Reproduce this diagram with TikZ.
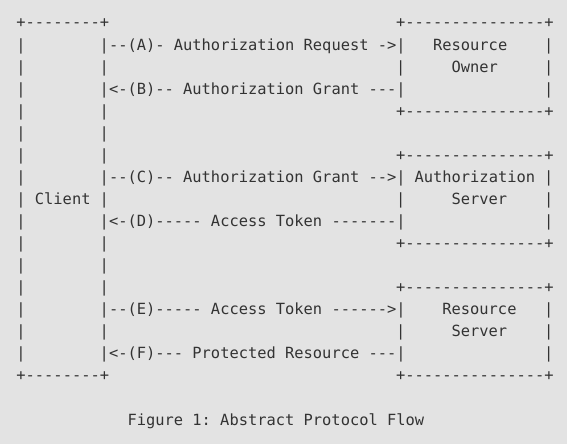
\documentclass[tikz,border=0pt]{standalone}
\usepackage{fontspec}
\setmonofont{DejaVu Sans Mono}
\definecolor{paper}{HTML}{E3E3E3}
\definecolor{ink}{HTML}{333333}

\begin{document}
\begin{tikzpicture}[x=9.26pt,y=-22.06pt,
  ascii/.style={anchor=base west,inner sep=0pt,outer sep=0pt,text=ink,
    font=\ttfamily\fontsize{15.4}{18}\selectfont\frenchspacing}]
  % one unit = one character cell of the figure
  \fill[paper] (-1.771,-1.269) rectangle (59.46,18.858);

  % client
  \node[ascii] (cltop) at (0,0) {+--------+};
  \foreach \r in {1,...,15}
    \node[ascii] (clleft\r) at (0,\r) {|};
  \foreach \r in {2,4,5,6,8,10,11,12,14}
    \node[ascii] (clright\r) at (9,\r) {|};
  \node[ascii] (client) at (2,8) {Client};
  \node[ascii] (clbot) at (0,16) {+--------+};

  % servers
  \foreach \t/\srv in {0/owner,6/authz,12/rsrv} {
    \node[ascii] (\srv-top) at (41,\t) {+---------------+};
    \node[ascii] (\srv-left) at (41,\t+2) {|};
    \foreach \r in {1,2,3}
      \node[ascii] (\srv-right\r) at (57,\t+\r) {|};
    \node[ascii] (\srv-bot) at (41,\t+4) {+---------------+};
  }
  \node[ascii] (owner1) at (45,1) {Resource};
  \node[ascii] (owner2) at (47,2) {Owner};
  \node[ascii] (authz1) at (43,7) {Authorization};
  \node[ascii] (authz2) at (47,8) {Server};
  \node[ascii] (rsrv1) at (46,13) {Resource};
  \node[ascii] (rsrv2) at (47,14) {Server};

  % flows
  \node[ascii] (flowA) at (9,1) {|--(A)- Authorization Request ->|};
  \node[ascii] (flowB) at (9,3) {|<-(B)-- Authorization Grant ---|};
  \node[ascii] (flowC) at (9,7) {|--(C)-- Authorization Grant -->|};
  \node[ascii] (flowD) at (9,9) {|<-(D)----- Access Token -------|};
  \node[ascii] (flowE) at (9,13) {|--(E)----- Access Token ------>|};
  \node[ascii] (flowF) at (9,15) {|<-(F)--- Protected Resource ---|};

  \node[ascii] (caption) at (12,18) {Figure 1: Abstract Protocol Flow};
\end{tikzpicture}
\end{document}
